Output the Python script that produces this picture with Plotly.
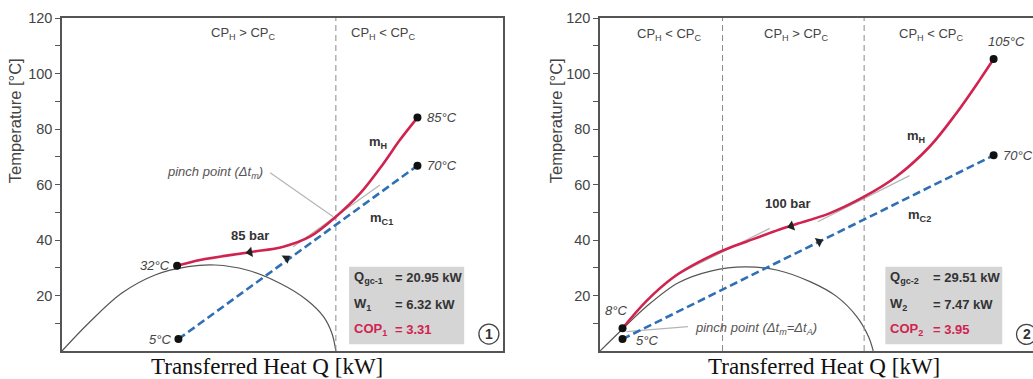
import plotly.graph_objects as go

# ---------------- Panel 1 data (85 bar) ----------------
p1_hot_q = [26.1, 31.3, 42.6, 50.2, 56.2, 62.1, 67.6, 72.9, 76.6, 80.6]
p1_hot_t = [30.7, 32.8, 35.6, 37.6, 41.2, 48.4, 56.8, 67.6, 76.0, 84.1]
p1_cold_q = [26.4, 80.6]
p1_cold_t = [4.3, 66.8]
p1_dome_q = [0, 6.0, 13.5, 21.1, 28.6, 34.7, 41.9, 49.4, 55.5, 59.3, 61.2, 62.1]
p1_dome_t = [0, 10.0, 20.8, 27.4, 30.4, 31.0, 29.2, 24.4, 18.4, 12.4, 6.4, 0]
p1_bounds = [62.1]
p1_tangent_q = [52.4, 72.1]
p1_tangent_t = [37.6, 59.8]
p1_pinchline_q = [47.2, 61.5]
p1_pinchline_t = [64.2, 48.4]
p1_end_q = [26.1, 26.4, 80.6, 80.6]
p1_end_t = [30.7, 4.3, 84.1, 66.8]
p1_end_labels = ["32°C", "5°C", "85°C", "70°C"]
p1_arrow_hot = (42.6, 35.6)
p1_arrow_cold = (50.9, 33.4)
p1_box_labels = ["Q<sub>gc-1</sub>", "W<sub>1</sub>", "COP<sub>1</sub>"]
p1_box_values = ["= 20.95 kW", "= 6.32 kW", "= 3.31"]

# ---------------- Panel 2 data (100 bar) ----------------
p2_hot_q = [5.2, 10.7, 16.9, 23.0, 28.4, 33.8, 40.0, 44.6, 53.0, 61.0, 68.4, 76.1, 82.3, 87.7, 90.9]
p2_hot_t = [8.2, 18.0, 26.5, 32.2, 36.2, 39.4, 43.0, 45.4, 49.6, 55.6, 62.8, 73.6, 85.7, 97.7, 105.2]
p2_cold_q = [5.2, 90.9]
p2_cold_t = [4.3, 70.5]
p2_dome_q = [0, 5.4, 10.4, 18.1, 25.8, 33.5, 40.8, 48.5, 54.7, 59.3, 62.0, 63.1]
p2_dome_t = [0, 8.2, 15.6, 24.6, 28.9, 30.3, 29.2, 25.0, 19.6, 12.4, 5.2, 0]
p2_bounds = [28.3, 61.0]
p2_tangent1_q = [17.6, 39.2]
p2_tangent1_t = [27.4, 44.2]
p2_tangent2_q = [50.3, 71.5]
p2_tangent2_t = [46.6, 63.2]
p2_pinchline_q = [6.1, 20.3]
p2_pinchline_t = [7.0, 8.8]
p2_end_q = [5.2, 5.2, 90.9, 90.9]
p2_end_t = [8.2, 4.3, 105.2, 70.5]
p2_arrow_hot = (44.2, 45.0)
p2_arrow_cold = (50.6, 39.4)
p2_box_labels = ["Q<sub>gc-2</sub>", "W<sub>2</sub>", "COP<sub>2</sub>"]
p2_box_values = ["= 29.51 kW", "= 7.47 kW", "= 3.95"]

y_tickvals = [10, 20, 30, 40, 50, 60, 70, 80, 90, 100, 110, 120]
y_ticktext = ["", "20", "", "40", "", "60", "", "80", "", "100", "", "120"]

RED = "#d0234f"
BLUE = "#2f6fb5"
DOME = "#555555"
LIGHT = "#b5b5b5"
TXT = "#444444"
SANS = "Liberation Sans, Arial, sans-serif"

W, H = 1033, 379
fig = go.Figure()


def add_panel(xa, ya, hot_q, hot_t, cold_q, cold_t, dome_q, dome_t, bounds,
              grey_lines, end_q, end_t, arrow_hot, arrow_cold, hot_ang, cold_ang):
    ax = dict(xaxis=xa, yaxis=ya, showlegend=False, hoverinfo="skip")
    fig.add_trace(go.Scatter(x=dome_q, y=dome_t, mode="lines",
                             line=dict(color=DOME, width=1.2, shape="spline"), **ax))
    for gq, gt in grey_lines:
        fig.add_trace(go.Scatter(x=gq, y=gt, mode="lines",
                                 line=dict(color=LIGHT, width=1.2), **ax))
    for b in bounds:
        fig.add_trace(go.Scatter(x=[b, b], y=[0, 120], mode="lines",
                                 line=dict(color="#8a8a8a", width=1, dash="6px,4px"), **ax))
    fig.add_trace(go.Scatter(x=cold_q, y=cold_t, mode="lines",
                             line=dict(color=BLUE, width=2.6, dash="8px,4px"), **ax))
    fig.add_trace(go.Scatter(x=hot_q, y=hot_t, mode="lines",
                             line=dict(color=RED, width=2.6, shape="spline"), **ax))
    fig.add_trace(go.Scatter(x=end_q, y=end_t, mode="markers",
                             marker=dict(color="#111111", size=8), **ax))
    fig.add_trace(go.Scatter(x=[arrow_hot[0]], y=[arrow_hot[1]], mode="markers",
                             marker=dict(symbol="triangle-left", size=9, color="#222222",
                                         angle=hot_ang), **ax))
    fig.add_trace(go.Scatter(x=[arrow_cold[0]], y=[arrow_cold[1]], mode="markers",
                             marker=dict(symbol="triangle-right", size=9, color="#222222",
                                         angle=cold_ang), **ax))


add_panel("x", "y", p1_hot_q, p1_hot_t, p1_cold_q, p1_cold_t, p1_dome_q, p1_dome_t,
          p1_bounds, [(p1_tangent_q, p1_tangent_t), (p1_pinchline_q, p1_pinchline_t)],
          p1_end_q, p1_end_t, p1_arrow_hot, p1_arrow_cold, -10, -36)
add_panel("x2", "y2", p2_hot_q, p2_hot_t, p2_cold_q, p2_cold_t, p2_dome_q, p2_dome_t,
          p2_bounds, [(p2_tangent1_q, p2_tangent1_t), (p2_tangent2_q, p2_tangent2_t),
                      (p2_pinchline_q, p2_pinchline_t)],
          p2_end_q, p2_end_t, p2_arrow_hot, p2_arrow_cold, -18, -26)

ann = []


def label(xr, yr, x, y, text, size=13, color=TXT, xanchor="center", bold=False, italic=False):
    if bold:
        text = "<b>" + text + "</b>"
    if italic:
        text = "<i>" + text + "</i>"
    ann.append(dict(xref=xr, yref=yr, x=x, y=y, text=text, showarrow=False,
                    xanchor=xanchor, yanchor="middle",
                    font=dict(family=SANS, size=size, color=color)))


CPgt = "CP<sub>H</sub> > CP<sub>C</sub>"
CPlt = "CP<sub>H</sub> < CP<sub>C</sub>"

# Panel 1 labels
label("x", "y", 41.2, 114.5, CPgt)
label("x", "y", 72.8, 114.5, CPlt)
label("x", "y", 34.7, 64.5, "pinch point (Δt<sub>m</sub>)", color="#555555", italic=True)
label("x", "y", 42.6, 41.8, "85 bar", bold=True, color="#333333")
label("x", "y", 71.7, 75.0, "m<sub>H</sub>", bold=True, color="#333333")
label("x", "y", 72.5, 47.9, "m<sub>C1</sub>", bold=True, color="#333333")
label("x", "y", 82.3, 84.1, p1_end_labels[2], xanchor="left", italic=True)
label("x", "y", 82.3, 66.8, p1_end_labels[3], xanchor="left", italic=True)
label("x", "y", 24.9, 30.7, p1_end_labels[0], xanchor="right", italic=True)
label("x", "y", 25.2, 4.3, p1_end_labels[1], xanchor="right", italic=True)
box_rows_t = [26.4, 16.9, 7.6]
for i in range(3):
    col = RED if i == 2 else "#333333"
    label("x", "y", 65.8, box_rows_t[i], p1_box_labels[i], xanchor="left", bold=True, color=col)
    label("x", "y", 75.1, box_rows_t[i], p1_box_values[i], xanchor="left", bold=True, color=col)
label("x", "y", 96.8, 6.1, "1", bold=True, size=14, color="#333333")

# Panel 2 labels
label("x2", "y2", 16.1, 113.9, CPlt)
label("x2", "y2", 45.3, 113.9, CPgt)
label("x2", "y2", 76.5, 113.9, CPlt)
label("x2", "y2", 93.8, 111.5, "105°C", italic=True)
label("x2", "y2", 92.7, 70.5, "70°C", xanchor="left", italic=True)
label("x2", "y2", 3.8, 14.5, "8°C", italic=True)
label("x2", "y2", 7.8, 3.7, "5°C", xanchor="left", italic=True)
label("x2", "y2", 21.5, 8.2, "pinch point (Δt<sub>m</sub>=Δt<sub>A</sub>)", xanchor="left",
      color="#555555", italic=True)
label("x2", "y2", 43.4, 53.2, "100 bar", bold=True, color="#333333")
label("x2", "y2", 73.0, 77.2, "m<sub>H</sub>", bold=True, color="#333333")
label("x2", "y2", 73.8, 49.0, "m<sub>C2</sub>", bold=True, color="#333333")
for i in range(3):
    col = RED if i == 2 else "#333333"
    label("x2", "y2", 66.5, box_rows_t[i], p2_box_labels[i], xanchor="left", bold=True, color=col)
    label("x2", "y2", 76.5, box_rows_t[i], p2_box_values[i], xanchor="left", bold=True, color=col)
label("x2", "y2", 98.5, 6.0, "2", bold=True, size=14, color="#333333")

# axis titles
for xc, yt_x in [(267, 15), (824, 556)]:
    ann.append(dict(xref="paper", yref="paper", x=xc / W, y=-0.046, text="Transferred Heat Q [kW]",
                    showarrow=False, xanchor="center", yanchor="middle",
                    font=dict(family="Liberation Serif, Times New Roman, serif", size=23, color="#111111")))
    ann.append(dict(xref="paper", yref="paper", x=yt_x / W, y=0.69, text="Temperature [°C]",
                    textangle=-90, showarrow=False, xanchor="center", yanchor="middle",
                    font=dict(family=SANS, size=16.5, color=TXT)))

shapes = [
    dict(type="rect", xref="x", yref="y", x0=65.1, x1=91.2, y0=2.4, y1=30.4,
         fillcolor="#d5d5d5", line=dict(width=0), layer="below"),
    dict(type="rect", xref="x2", yref="y2", x0=65.9, x1=92.9, y0=2.4, y1=30.4,
         fillcolor="#d5d5d5", line=dict(width=0), layer="below"),
    dict(type="circle", xref="x", yref="y", xsizemode="pixel", ysizemode="pixel",
         xanchor=96.8, yanchor=6.1, x0=-10, x1=10, y0=-10, y1=10,
         line=dict(color="#444444", width=1.3)),
    dict(type="circle", xref="x2", yref="y2", xsizemode="pixel", ysizemode="pixel",
         xanchor=98.5, yanchor=6.0, x0=-10, x1=10, y0=-10, y1=10,
         line=dict(color="#444444", width=1.3)),
]

xcommon = dict(range=[0, 100], showgrid=False, zeroline=False, showticklabels=False,
               ticks="", showline=True, linecolor="#555555", linewidth=1.5, mirror=True)
ycommon = dict(range=[0, 120], showgrid=False, zeroline=False, showline=True,
               linecolor="#555555", linewidth=1.5, ticks="outside", ticklen=5,
               tickcolor="#555555", tickwidth=1.3, tickvals=y_tickvals, ticktext=y_ticktext,
               tickfont=dict(family=SANS, size=14.5, color=TXT), domain=[0, 1])

fig.update_layout(
    width=W, height=H, margin=dict(l=0, r=0, t=18, b=28),
    paper_bgcolor="white", plot_bgcolor="white", showlegend=False,
    xaxis=dict(domain=[62 / W, 503 / W], anchor="y", **xcommon),
    xaxis2=dict(domain=[600 / W, 1.0], anchor="y2", **xcommon),
    yaxis=dict(anchor="x", mirror=True, **ycommon),
    yaxis2=dict(anchor="x2", mirror=False, **ycommon),
    annotations=ann, shapes=shapes,
)

fig.write_html("out.html")
